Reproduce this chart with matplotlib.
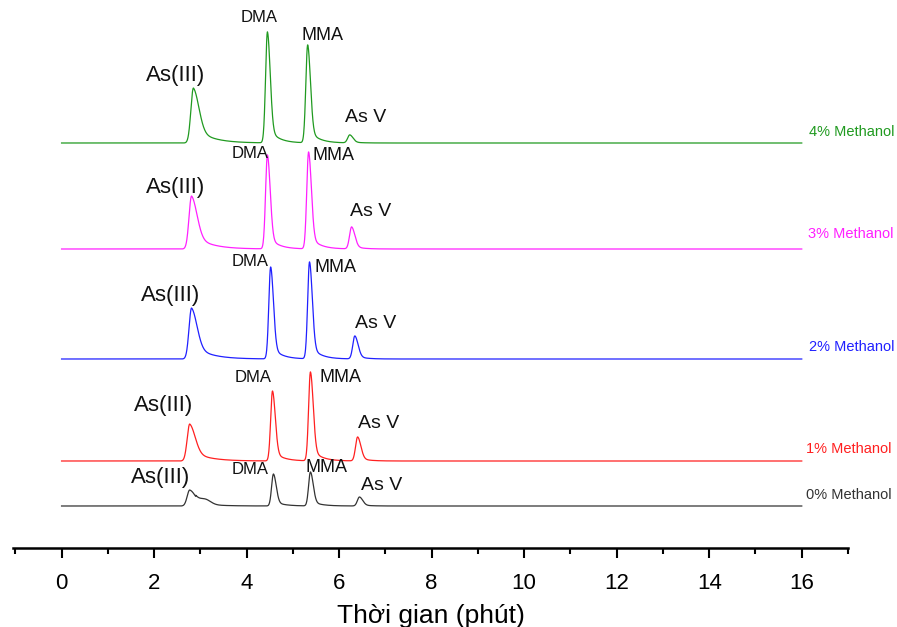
import numpy as np
import matplotlib
matplotlib.use("Agg")
import matplotlib.pyplot as plt

plt.rcParams['font.family'] = ['Liberation Sans', 'DejaVu Sans']

# Chromatograms, bottom to top
series = ["0% Methanol", "1% Methanol", "2% Methanol", "3% Methanol", "4% Methanol"]
colors = ["#333333", "#ff2020", "#2020ff", "#ff20ff", "#209a20"]
baselines = [42, 87, 189, 299, 405]

peak_names = ["As(III)", "DMA", "MMA", "As V"]
# retention time (min) of each peak, per series
peak_times = [
    [2.77, 4.58, 5.38, 6.44],
    [2.77, 4.56, 5.38, 6.40],
    [2.81, 4.52, 5.36, 6.34],
    [2.81, 4.45, 5.34, 6.27],
    [2.85, 4.45, 5.32, 6.23],
]
# peak heights (signal units), per series
peak_heights = [
    [16, 32, 34, 9],
    [37, 70, 89, 24],
    [51, 92, 97, 23],
    [53, 94, 97, 22],
    [55, 111, 98, 8],
]
# small shoulder after As(III) in the 0% run
shoulder_time = 3.1
shoulder_height = 5

# peak shape: rise sigma, fall sigma, tail constant, gaussian fraction
shape_rise = [0.055, 0.04, 0.04, 0.045]
shape_fall = [0.12, 0.06, 0.06, 0.07]
shape_tail = [0.35, 0.2, 0.2, 0.18]
shape_frac = [0.7, 0.85, 0.85, 0.85]

# label positions (time, signal) per series
label_pos = [
    [(2.14, 70), (4.07, 78), (5.73, 81), (6.92, 63)],
    [(2.21, 143), (4.13, 170), (6.03, 170), (6.86, 124)],
    [(2.36, 253), (4.07, 287), (5.93, 280), (6.79, 225)],
    [(2.47, 361), (4.07, 395), (5.88, 392), (6.68, 336)],
    [(2.47, 473), (4.28, 530), (5.64, 513), (6.57, 431)],
]
label_sizes = [16, 12, 13, 14]
series_label_pos = [(17.95, 53), (17.95, 99), (18.0, 201), (17.98, 314), (18.0, 416)]

t = np.linspace(0, 16, 4000)


def peak(tt, t0, h, i):
    y = np.where(
        tt < t0,
        np.exp(-0.5 * ((tt - t0) / shape_rise[i]) ** 2),
        shape_frac[i] * np.exp(-0.5 * ((tt - t0) / shape_fall[i]) ** 2)
        + (1 - shape_frac[i]) * np.exp(-np.clip(tt - t0, 0, None) / shape_tail[i]),
    )
    return h * y


fig = plt.figure(figsize=(8.97, 6.27), dpi=100)
ax = fig.add_axes([13 / 897, 79 / 627, 835 / 897, 548 / 627])

for k, name in enumerate(series):
    y = np.full_like(t, baselines[k], dtype=float)
    for i in range(len(peak_names)):
        y += peak(t, peak_times[k][i], peak_heights[k][i], i)
    if k == 0:
        y += shoulder_height * np.exp(-0.5 * ((t - shoulder_time) / 0.12) ** 2) * (t > 2.9)
    ax.plot(t, y, color=colors[k], lw=0.9)
    for i, lab in enumerate(peak_names):
        lx, ly = label_pos[k][i]
        ax.text(lx, ly, lab, fontsize=label_sizes[i], ha="center", va="center", color="#111111")
    sx, sy = series_label_pos[k]
    ax.text(sx, sy, name, fontsize=10.5, ha="right", va="center", color=colors[k], clip_on=False)

ax.set_xlim(-1.05, 17.0)
ax.set_ylim(0, 548)
for s in ["top", "left", "right"]:
    ax.spines[s].set_visible(False)
ax.spines["bottom"].set_linewidth(1.8)
ax.set_yticks([])
ax.set_xticks(np.arange(0, 17, 2))
ax.set_xticks(np.arange(-1, 18, 2), minor=True)
ax.tick_params(axis="x", which="major", length=7, width=1.5, labelsize=16, pad=11)
ax.tick_params(axis="x", which="minor", length=4, width=1.5)
ax.set_xlabel("Thời gian (phút)", fontsize=19, labelpad=7)

fig.savefig("out.png", dpi=100)
